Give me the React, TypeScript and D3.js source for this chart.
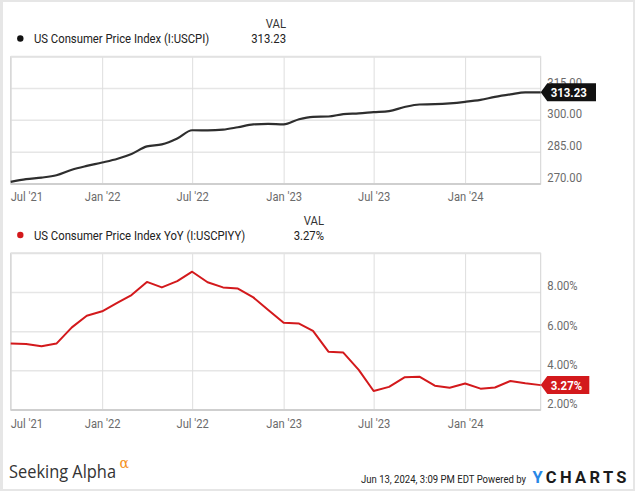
import React from 'react';
import * as d3 from 'd3';

// Monthly observations (YCharts dates them at month end)
const months: string[] = [
  '2021-06', '2021-07', '2021-08', '2021-09', '2021-10', '2021-11', '2021-12',
  '2022-01', '2022-02', '2022-03', '2022-04', '2022-05', '2022-06', '2022-07',
  '2022-08', '2022-09', '2022-10', '2022-11', '2022-12',
  '2023-01', '2023-02', '2023-03', '2023-04', '2023-05', '2023-06', '2023-07',
  '2023-08', '2023-09', '2023-10', '2023-11', '2023-12',
  '2024-01', '2024-02', '2024-03', '2024-04', '2024-05',
];

const cpiValues: number[] = [
  270.98, 272.27, 273.01, 274.14, 276.72, 278.52, 280.13,
  281.93, 284.18, 287.71, 288.66, 291.47, 295.33, 295.27,
  295.62, 296.76, 298.06, 298.35, 298.11,
  300.54, 301.65, 301.81, 302.92, 303.29, 303.84, 304.35,
  306.27, 307.48, 307.62, 308.02, 308.74,
  309.69, 311.05, 312.23, 313.21, 313.23,
];

const yoyValues: number[] = [
  5.39, 5.37, 5.25, 5.39, 6.22, 6.81, 7.04,
  7.48, 7.87, 8.54, 8.26, 8.58, 9.06, 8.52,
  8.26, 8.2, 7.75, 7.11, 6.45,
  6.41, 6.04, 4.98, 4.93, 4.05, 2.97, 3.18,
  3.67, 3.7, 3.24, 3.14, 3.35,
  3.09, 3.15, 3.48, 3.36, 3.27,
];

const xTickDates: string[] = ['2021-07-01', '2022-01-01', '2022-07-01', '2023-01-01', '2023-07-01', '2024-01-01'];
const xTickLabels: string[] = ["Jul '21", "Jan '22", "Jul '22", "Jan '23", "Jul '23", "Jan '24"];

const cpiTicks: number[] = [270, 285, 300, 315];
const cpiDomain: number[] = [270, 330];
const yoyTicks: number[] = [2, 4, 6, 8];
const yoyDomain: number[] = [2, 10];

const cpiName = 'US Consumer Price Index (I:USCPI)';
const yoyName = 'US Consumer Price Index YoY (I:USCPIYY)';
const cpiLast = '313.23';
const yoyLast = '3.27%';
const stamp = 'Jun 13, 2024, 3:09 PM EDT Powered by';

const FONT = 'Roboto, "Noto Sans", sans-serif';

const monthEnd = (s: string) => {
  const [y, m] = s.split('-').map(Number);
  return new Date(y, m, 0);
};
const parseDay = d3.timeParse('%Y-%m-%d');

type TProps = {
  x: number; y: number; anchor?: string; size?: number; sx?: number;
  weight?: number | string; fill?: string; children: React.ReactNode; family?: string;
};
function T({ x, y, anchor = 'start', size = 13, sx = 0.87, weight = 400, fill = '#222', children, family = FONT }: TProps) {
  return (
    <text
      transform={`translate(${x},${y}) scale(${sx},1)`}
      textAnchor={anchor as any}
      fontFamily={family}
      fontSize={size}
      fontWeight={weight}
      fill={fill}
    >
      {children}
    </text>
  );
}

const X0 = 10.7;
const X1 = 540.7;

const x = d3.scaleTime()
  .domain([monthEnd(months[0]), monthEnd(months[months.length - 1])])
  .range([X0, X1]);

type PanelProps = {
  y0: number; y1: number; values: number[]; domain: number[]; ticks: number[];
  color: string; fmt: (v: number) => string; curve: d3.CurveFactory;
  flagText: string; flagW: number; flagColor: string; labelBase: number; lineW: number;
};

function Panel({ y0, y1, values, domain, ticks, color, fmt, curve, flagText, flagW, flagColor, labelBase, lineW }: PanelProps) {
  const y = d3.scaleLinear().domain(domain).range([y1, y0]);
  const pts = months.map((m, i) => ({ d: monthEnd(m), v: values[i] }));
  const line = d3.line<{ d: Date; v: number }>().x((p) => x(p.d)).y((p) => y(p.v)).curve(curve);
  const last = values[values.length - 1];
  const yv = y(last);
  const fx = X1;
  return (
    <g>
      {ticks.filter((t) => y(t) > y0 + 1 && y(t) < y1 - 1).map((t) => (
        <line key={'h' + t} x1={X0} x2={X1} y1={y(t)} y2={y(t)} stroke="#e6e6e6" strokeWidth={1.5} />
      ))}
      {xTickDates.map((s) => {
        const xx = x(parseDay(s) as Date);
        return <line key={'v' + s} x1={xx} x2={xx} y1={y0} y2={y1} stroke="#dedede" strokeWidth={1} />;
      })}
      <rect x={X0} y={y0} width={X1 - X0} height={y1 - y0} fill="none" stroke="#d2d2d2" strokeWidth={1} />
      <line x1={X0} x2={X1} y1={y0} y2={y0} stroke="#e2e2e2" strokeWidth={2} />
      <line x1={X0} x2={X1} y1={y1} y2={y1} stroke="#cfcfcf" strokeWidth={2} />
      <path d={line(pts) || ''} fill="none" stroke={color} strokeWidth={lineW} strokeLinejoin="round" />
      {ticks.map((t) => (
        <T key={'l' + t} x={547.3} y={y(t) - 2} size={12.7} sx={0.89} fill="#6b6b6b">{fmt(t)}</T>
      ))}
      {xTickDates.map((s, i) => {
        const xx = x(parseDay(s) as Date);
        return (
          <T key={'x' + s} x={i === 0 ? X0 : xx} y={labelBase} anchor={i === 0 ? 'start' : 'middle'} size={13} sx={0.86} fill="#6b6b6b">
            {xTickLabels[i]}
          </T>
        );
      })}
      <polygon
        points={`${fx},${yv} ${fx + 6.6},${yv - 9} ${fx + flagW},${yv - 9} ${fx + flagW},${yv + 9} ${fx + 6.6},${yv + 9}`}
        fill={flagColor}
      />
      <T x={fx + 10} y={yv + 4.6} size={13} sx={0.88} weight={700} fill="#ffffff">{flagText}</T>
    </g>
  );
}

export default function App() {
  return (
    <svg
      width={635}
      height={491}
      style={{ position: 'absolute', left: 0, top: 0, background: '#ffffff' }}
    >
      <rect x={0} y={0} width={635} height={491} fill="#ffffff" />
      {/* frame */}
      <rect x={0} y={0} width={3} height={491} fill="#e6e6e6" />
      <rect x={0} y={0} width={635} height={2} fill="#e6e6e6" />
      <rect x={633} y={0} width={2} height={491} fill="#e6e6e6" />
      <rect x={0} y={489} width={635} height={2} fill="#e6e6e6" />

      {/* top legend */}
      <T x={286} y={28} anchor="end" size={13} fill="#333">VAL</T>
      <circle cx={20.3} cy={38.5} r={3.2} fill="#111" />
      <T x={34} y={43} size={13} fill="#222">{cpiName}</T>
      <T x={286} y={43} anchor="end" size={13} fill="#222">{cpiLast}</T>

      <Panel
        y0={56.7} y1={184} values={cpiValues} domain={cpiDomain} ticks={cpiTicks}
        color="#2e2e2e" fmt={(v) => v.toFixed(2)} curve={d3.curveMonotoneX}
        flagText={cpiLast} flagW={55.3} flagColor="#111111" labelBase={200.5} lineW={2.2}
      />

      {/* bottom legend */}
      <T x={324} y={224.5} anchor="end" size={13} fill="#333">VAL</T>
      <circle cx={20.3} cy={235} r={3.2} fill="#d3191c" />
      <T x={34} y={239.5} size={13} fill="#222">{yoyName}</T>
      <T x={324} y={239.5} anchor="end" size={13} fill="#222">{yoyLast}</T>

      <Panel
        y0={253.3} y1={410} values={yoyValues} domain={yoyDomain} ticks={yoyTicks}
        color="#d3191c" fmt={(v) => v.toFixed(2) + '%'} curve={d3.curveLinear}
        flagText={yoyLast} flagW={48.6} flagColor="#d3191c" labelBase={428} lineW={2}
      />

      {/* footer */}
      <text x={9} y={478} fontFamily='"Open Sans", Lato, sans-serif' fontSize={18} fill="#333" textLength={107} lengthAdjust="spacingAndGlyphs">
        Seeking Alpha
      </text>
      <text x={119.5} y={468} fontFamily='"DejaVu Serif", serif' fontSize={14} fill="#f5921e">α</text>
      <text x={361} y={483} fontFamily={FONT} fontSize={11.7} fill="#222" textLength={165} lengthAdjust="spacingAndGlyphs">
        {stamp}
      </text>
      <text x={532.5} y={483.3} fontFamily={FONT} fontSize={16.5} fontWeight={700} textLength={94} lengthAdjust="spacing">
        <tspan fill="#2787e6">Y</tspan>
        <tspan fill="#1b1b1b">CHARTS</tspan>
      </text>
    </svg>
  );
}
